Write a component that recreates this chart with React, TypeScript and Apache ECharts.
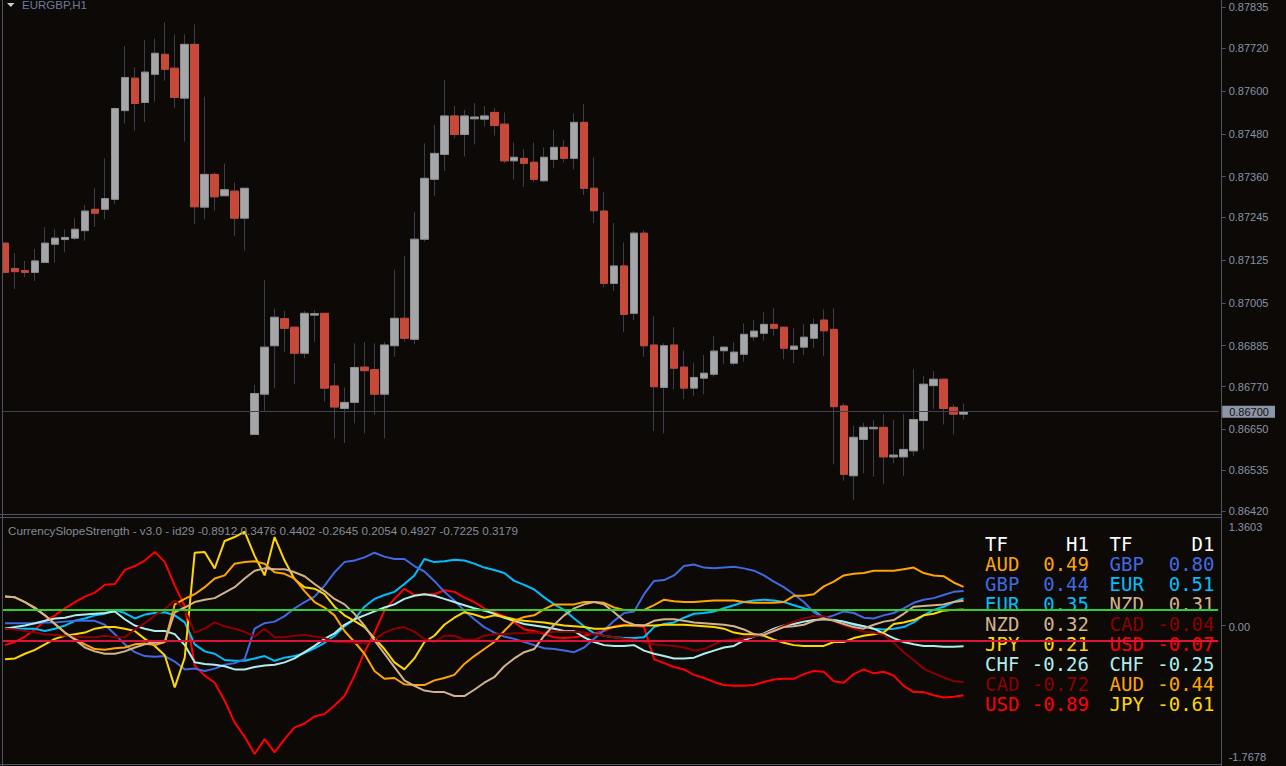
import React, { useEffect, useRef } from "react";
import * as echarts from "echarts";

// ---------- price panel (EURGBP, H1) ----------
const opens = [0.87173,0.87102,0.87096,0.87091,0.87119,0.87170,0.87183,0.87187,0.87208,0.87268,0.87268,0.87296,0.87545,0.87636,0.87568,0.87647,0.87703,0.87664,0.87580,0.87731,0.87274,0.87366,0.87306,0.87319,0.87243,0.86636,0.86749,0.86885,0.86961,0.86937,0.86864,0.86971,0.86976,0.86772,0.86709,0.86726,0.86825,0.86818,0.86749,0.86885,0.86962,0.86903,0.87184,0.87352,0.87422,0.87530,0.87478,0.87522,0.87521,0.87540,0.87507,0.87404,0.87411,0.87400,0.87348,0.87408,0.87442,0.87411,0.87512,0.87327,0.87263,0.87060,0.87109,0.86976,0.87201,0.86887,0.86768,0.86887,0.86825,0.86766,0.86794,0.86805,0.86871,0.86836,0.86861,0.86910,0.86920,0.86945,0.86937,0.86875,0.86881,0.86906,0.86957,0.86931,0.86716,0.86520,0.86622,0.86652,0.86656,0.86573,0.86573,0.86590,0.86675,0.86773,0.86791,0.86712,0.86693];
const closes = [0.87091,0.87093,0.87091,0.87123,0.87173,0.87187,0.87189,0.87212,0.87263,0.87257,0.87298,0.87551,0.87638,0.87565,0.87653,0.87706,0.87661,0.87582,0.87731,0.87275,0.87366,0.87303,0.87323,0.87243,0.87327,0.86751,0.86881,0.86965,0.86934,0.86864,0.86976,0.86975,0.86766,0.86713,0.86726,0.86824,0.86815,0.86749,0.86887,0.86962,0.86906,0.87184,0.87355,0.87425,0.87530,0.87478,0.87530,0.87527,0.87530,0.87503,0.87404,0.87414,0.87397,0.87352,0.87414,0.87442,0.87411,0.87512,0.87327,0.87264,0.87060,0.87109,0.86973,0.87201,0.86885,0.86770,0.86885,0.86822,0.86766,0.86796,0.86808,0.86870,0.86881,0.86867,0.86917,0.86926,0.86945,0.86934,0.86878,0.86884,0.86909,0.86945,0.86927,0.86714,0.86524,0.86628,0.86656,0.86656,0.86573,0.86578,0.86594,0.86678,0.86777,0.86791,0.86709,0.86693,0.86700];
const lows = [0.87089,0.87044,0.87078,0.87067,0.87118,0.87119,0.87147,0.87182,0.87180,0.87219,0.87240,0.87282,0.87509,0.87489,0.87513,0.87570,0.87629,0.87552,0.87458,0.87226,0.87240,0.87264,0.87306,0.87194,0.87152,0.86635,0.86702,0.86765,0.86868,0.86777,0.86850,0.86896,0.86728,0.86625,0.86612,0.86667,0.86639,0.86691,0.86625,0.86854,0.86896,0.86889,0.87177,0.87306,0.87376,0.87467,0.87416,0.87450,0.87500,0.87475,0.87397,0.87352,0.87331,0.87345,0.87345,0.87383,0.87400,0.87380,0.87308,0.87229,0.87049,0.87039,0.86923,0.86957,0.86854,0.86646,0.86639,0.86763,0.86735,0.86745,0.86749,0.86798,0.86833,0.86829,0.86840,0.86899,0.86899,0.86913,0.86847,0.86836,0.86859,0.86878,0.86856,0.86552,0.86506,0.86452,0.86527,0.86517,0.86496,0.86555,0.86520,0.86575,0.86594,0.86707,0.86664,0.86636,0.86678];
const highs = [0.87175,0.87145,0.87123,0.87157,0.87218,0.87212,0.87212,0.87243,0.87280,0.87327,0.87411,0.87553,0.87726,0.87667,0.87743,0.87748,0.87793,0.87759,0.87759,0.87787,0.87584,0.87372,0.87397,0.87344,0.87328,0.86775,0.87069,0.86989,0.86983,0.86938,0.86983,0.86985,0.86977,0.86836,0.86768,0.86892,0.86895,0.86892,0.86895,0.87098,0.87137,0.87260,0.87453,0.87505,0.87631,0.87558,0.87547,0.87566,0.87558,0.87552,0.87540,0.87456,0.87437,0.87456,0.87442,0.87491,0.87462,0.87537,0.87563,0.87414,0.87316,0.87229,0.87175,0.87207,0.87210,0.86968,0.86892,0.86937,0.86871,0.86838,0.86859,0.86912,0.86882,0.86895,0.86948,0.86957,0.86979,0.86990,0.86938,0.86934,0.86945,0.86962,0.86987,0.86990,0.86723,0.86660,0.86669,0.86677,0.86693,0.86678,0.86693,0.86819,0.86800,0.86814,0.86792,0.86721,0.86723];
const currentPrice = 0.867;
const priceTicks = [0.87835,0.8772,0.876,0.8748,0.8736,0.87245,0.87125,0.87005,0.86885,0.8677,0.8665,0.86535,0.8642];

// ---------- CurrencySlopeStrength panel ----------
const usd = [-0.25,-0.21,-0.14,-0.05,0.06,0.13,0.22,0.30,0.37,0.42,0.52,0.53,0.71,0.76,0.83,0.94,0.81,0.51,0.25,-0.51,-0.64,-0.73,-0.96,-1.24,-1.42,-1.64,-1.45,-1.62,-1.45,-1.30,-1.25,-1.16,-1.13,-1.02,-0.90,-0.64,-0.34,-0.09,0.19,0.34,0.47,0.39,0.40,0.40,0.45,0.43,0.36,0.30,0.22,0.17,0.12,0.04,-0.05,-0.07,-0.11,-0.15,-0.16,-0.15,-0.13,-0.10,-0.07,-0.01,0.01,0.00,-0.02,-0.43,-0.48,-0.53,-0.56,-0.63,-0.67,-0.72,-0.76,-0.77,-0.77,-0.76,-0.72,-0.69,-0.68,-0.68,-0.62,-0.58,-0.59,-0.71,-0.73,-0.62,-0.56,-0.61,-0.59,-0.64,-0.77,-0.85,-0.85,-0.89,-0.92,-0.91,-0.8912];
const eur = [-0.03,-0.04,-0.04,-0.04,-0.07,-0.04,0.00,0.06,0.09,0.13,0.15,0.20,0.16,0.09,0.14,0.16,0.17,0.13,0.04,-0.24,-0.33,-0.36,-0.44,-0.45,-0.45,-0.42,-0.39,-0.45,-0.41,-0.39,-0.35,-0.29,-0.22,-0.13,-0.01,0.08,0.24,0.34,0.39,0.43,0.53,0.64,0.85,0.81,0.82,0.84,0.83,0.79,0.74,0.71,0.67,0.57,0.52,0.46,0.36,0.27,0.20,0.09,-0.01,-0.10,-0.13,-0.15,-0.16,-0.16,-0.15,-0.02,0.02,0.04,0.10,0.15,0.16,0.18,0.22,0.26,0.30,0.32,0.33,0.32,0.30,0.26,0.22,0.19,0.10,0.07,0.05,0.01,-0.01,-0.04,-0.05,-0.04,-0.02,0.04,0.13,0.20,0.24,0.30,0.3476];
const gbp = [0.03,0.03,0.03,0.03,0.04,0.04,0.05,0.06,0.06,0.06,0.01,-0.11,-0.24,-0.34,-0.39,-0.40,-0.39,-0.46,-0.56,-0.55,-0.58,-0.55,-0.50,-0.48,-0.43,-0.04,0.03,0.05,0.12,0.22,0.30,0.37,0.51,0.68,0.81,0.83,0.87,0.93,0.88,0.85,0.85,0.76,0.69,0.57,0.43,0.32,0.19,0.08,-0.02,-0.09,-0.14,-0.17,-0.21,-0.25,-0.29,-0.30,-0.32,-0.34,-0.28,-0.17,-0.06,0.06,0.16,0.18,0.40,0.57,0.58,0.64,0.76,0.78,0.74,0.73,0.74,0.75,0.73,0.70,0.64,0.56,0.49,0.40,0.30,0.17,0.09,0.13,0.18,0.16,0.10,0.09,0.13,0.16,0.22,0.29,0.33,0.35,0.39,0.43,0.4402];
const chf = [-0.04,-0.02,0.00,0.03,0.06,0.09,0.10,0.13,0.14,0.15,0.16,0.18,0.08,0.00,-0.04,-0.07,-0.07,-0.11,-0.25,-0.47,-0.49,-0.50,-0.52,-0.56,-0.56,-0.53,-0.51,-0.50,-0.47,-0.42,-0.34,-0.26,-0.17,-0.10,0.01,0.08,0.13,0.18,0.23,0.27,0.34,0.38,0.40,0.38,0.34,0.30,0.26,0.22,0.19,0.15,0.10,0.06,0.02,0.00,-0.02,-0.04,-0.07,-0.07,-0.15,-0.21,-0.25,-0.26,-0.26,-0.25,-0.32,-0.36,-0.39,-0.42,-0.42,-0.41,-0.36,-0.32,-0.28,-0.26,-0.19,-0.14,-0.10,-0.04,0.00,0.02,0.05,0.07,0.08,0.07,0.05,0.02,-0.01,-0.04,-0.10,-0.16,-0.21,-0.24,-0.26,-0.26,-0.27,-0.27,-0.2645];
const jpy = [-0.43,-0.42,-0.36,-0.31,-0.24,-0.17,-0.13,-0.11,-0.09,-0.04,-0.02,-0.02,-0.04,-0.07,-0.17,-0.26,-0.38,-0.79,-0.41,0.93,0.94,0.73,1.08,1.13,1.20,0.89,0.64,1.13,0.83,0.59,0.49,0.47,0.40,0.24,0.13,0.06,-0.02,-0.16,-0.30,-0.47,-0.56,-0.42,-0.21,-0.13,0.01,0.10,0.17,0.14,0.10,0.13,0.11,0.08,0.06,0.05,0.04,0.02,0.00,-0.01,-0.02,-0.04,-0.04,-0.02,0.00,0.00,0.00,0.00,0.01,0.01,0.01,0.00,-0.01,-0.02,-0.04,-0.09,-0.11,-0.11,-0.13,-0.18,-0.22,-0.25,-0.26,-0.26,-0.26,-0.21,-0.21,-0.16,-0.13,-0.11,-0.09,0.02,0.04,0.07,0.13,0.15,0.19,0.20,0.2054];
const aud = [0.37,0.36,0.30,0.23,0.13,0.02,-0.09,-0.17,-0.24,-0.30,-0.31,-0.29,-0.28,-0.24,-0.23,-0.25,-0.21,0.27,0.34,0.40,0.49,0.60,0.64,0.79,0.81,0.82,0.79,0.68,0.66,0.60,0.44,0.30,0.23,0.13,-0.07,-0.21,-0.36,-0.58,-0.68,-0.67,-0.75,-0.76,-0.76,-0.70,-0.67,-0.63,-0.49,-0.39,-0.30,-0.21,-0.07,0.06,0.11,0.13,0.21,0.27,0.27,0.27,0.30,0.30,0.29,0.23,0.20,0.20,0.20,0.26,0.33,0.31,0.30,0.30,0.31,0.32,0.32,0.32,0.30,0.29,0.29,0.29,0.30,0.38,0.38,0.40,0.50,0.56,0.64,0.66,0.67,0.70,0.70,0.70,0.72,0.74,0.67,0.64,0.63,0.55,0.4927];
const cad = [-0.04,-0.05,-0.07,-0.09,-0.11,-0.12,-0.13,-0.14,-0.15,-0.15,-0.13,-0.15,-0.15,-0.05,0.03,0.13,0.21,0.32,0.21,-0.09,-0.04,0.04,-0.01,-0.04,-0.08,-0.14,-0.04,-0.15,-0.15,-0.13,-0.12,-0.14,-0.16,-0.21,-0.21,-0.22,-0.23,-0.18,-0.09,-0.04,-0.02,-0.08,-0.17,-0.21,-0.13,-0.13,-0.18,-0.18,-0.13,-0.11,-0.11,-0.10,-0.10,-0.09,-0.09,-0.08,-0.08,-0.08,-0.09,-0.11,-0.13,-0.15,-0.17,-0.18,-0.21,-0.24,-0.25,-0.26,-0.28,-0.32,-0.30,-0.24,-0.19,-0.18,-0.16,-0.14,-0.11,-0.06,0.00,0.05,0.09,0.12,0.12,0.06,0.00,-0.04,-0.08,-0.09,-0.12,-0.22,-0.34,-0.44,-0.55,-0.61,-0.66,-0.71,-0.7225];
const nzd = [0.37,0.36,0.30,0.22,0.13,0.02,-0.09,-0.18,-0.28,-0.33,-0.36,-0.36,-0.33,-0.28,-0.24,-0.22,-0.21,0.17,0.23,0.30,0.33,0.35,0.42,0.49,0.60,0.70,0.73,0.72,0.72,0.68,0.63,0.53,0.44,0.34,0.27,0.15,0.00,-0.19,-0.36,-0.53,-0.70,-0.77,-0.83,-0.85,-0.85,-0.90,-0.90,-0.82,-0.73,-0.66,-0.52,-0.42,-0.34,-0.30,-0.13,0.01,0.13,0.22,0.27,0.30,0.27,0.17,0.06,0.01,0.00,0.06,0.08,0.08,0.06,0.04,0.03,0.02,0.01,-0.01,-0.05,-0.11,-0.12,-0.07,-0.02,-0.01,0.01,0.06,0.09,0.06,0.02,-0.02,-0.04,0.01,0.05,0.07,0.15,0.24,0.25,0.26,0.27,0.30,0.3179];
const levelHigh = 0.2;
const levelLow = -0.2;
const indMax = 1.3603;
const indMin = -1.7678;
const indTicks = [1.3603, 0, -1.7678];

// ---------- strength table ----------
const h1Currencies = ["AUD", "GBP", "EUR", "NZD", "JPY", "CHF", "CAD", "USD"];
const h1Values = [0.49, 0.44, 0.35, 0.32, 0.21, -0.26, -0.72, -0.89];
const d1Currencies = ["GBP", "EUR", "NZD", "CAD", "USD", "CHF", "AUD", "JPY"];
const d1Values = [0.8, 0.51, 0.31, -0.04, -0.07, -0.25, -0.44, -0.61];

const colors: Record<string, string> = {
  USD: "#FF0000",
  EUR: "#00BFFF",
  GBP: "#4169E1",
  CHF: "#AFEEEE",
  JPY: "#FFD700",
  AUD: "#FFA500",
  CAD: "#8B0000",
  NZD: "#D2B48C",
};

const BG = "#0c0907";
const FRAME = "#4f5363";
const AXIS_TEXT = "#8a93a6";
const WICK = "#3a3e4b";
const UP = "#a4a6a9";
const UP_BORDER = "#8c8e92";
const DOWN = "#c6493a";
const UI_FONT = '"Liberation Sans", Arial, sans-serif';
const MONO = '"DejaVu Sans Mono", monospace';

const SLOT_COUNT = 122;

function buildOption() {
  const slots = Array.from({ length: SLOT_COUNT }, (_, i) => String(i));
  const wickData = opens.map((o, i) => [o, closes[i], lows[i], highs[i]]);
  const bodyData = opens.map((o, i) => [
    o,
    closes[i],
    Math.min(o, closes[i]),
    Math.max(o, closes[i]),
  ]);

  const indicator: [string, number[]][] = [
    ["USD", usd],
    ["EUR", eur],
    ["GBP", gbp],
    ["CHF", chf],
    ["JPY", jpy],
    ["AUD", aud],
    ["CAD", cad],
    ["NZD", nzd],
  ];

  const graphic: any[] = [];
  // frame
  graphic.push({ type: "rect", z: 100, silent: true, shape: { x: 0, y: 0, width: 2, height: 766 }, style: { fill: BG } });
  graphic.push({ type: "line", z: 101, silent: true, shape: { x1: 2.5, y1: 0, x2: 2.5, y2: 766 }, style: { stroke: FRAME, lineWidth: 1 } });
  graphic.push({ type: "line", z: 101, silent: true, shape: { x1: 0, y1: 514.5, x2: 1222, y2: 514.5 }, style: { stroke: FRAME, lineWidth: 1 } });
  graphic.push({ type: "line", z: 101, silent: true, shape: { x1: 0, y1: 517.5, x2: 1222, y2: 517.5 }, style: { stroke: FRAME, lineWidth: 1 } });
  graphic.push({ type: "line", z: 101, silent: true, shape: { x1: 0, y1: 764.5, x2: 1222, y2: 764.5 }, style: { stroke: FRAME, lineWidth: 1 } });
  graphic.push({ type: "line", z: 101, silent: true, shape: { x1: 1221.5, y1: 0, x2: 1221.5, y2: 766 }, style: { stroke: FRAME, lineWidth: 1 } });
  // chart title
  graphic.push({ type: "polygon", z: 102, silent: true, shape: { points: [[7, 3], [14.5, 3], [10.75, 7]] }, style: { fill: "#c9cdd6" } });
  graphic.push({ type: "text", z: 102, silent: true, x: 22, y: 5, style: { text: "EURGBP,H1", fill: "#6d7a9e", font: `11.5px ${UI_FONT}`, verticalAlign: "middle" } });
  // indicator title
  const indTitle =
    "CurrencySlopeStrength - v3.0 - id29 " +
    [usd, eur, gbp, chf, jpy, aud, cad, nzd].map((s) => s[s.length - 1].toFixed(4)).join(" ");
  graphic.push({ type: "text", z: 102, silent: true, x: 8, y: 530, style: { text: indTitle, fill: "#858b99", font: `11.7px ${UI_FONT}`, verticalAlign: "middle" } });

  // strength table
  const rowY = (r: number) => 544 + r * 20;
  const tableFont = `19px ${MONO}`;
  const addCol = (labelX: number, valueRight: number, tf: string, names: string[], vals: number[]) => {
    graphic.push({ type: "text", z: 1, silent: true, x: labelX, y: rowY(0), style: { text: "TF", fill: "#ffffff", font: tableFont, verticalAlign: "middle" } });
    graphic.push({ type: "text", z: 1, silent: true, x: valueRight, y: rowY(0), style: { text: tf, fill: "#ffffff", font: tableFont, align: "right", verticalAlign: "middle" } });
    names.forEach((n, r) => {
      graphic.push({ type: "text", z: 1, silent: true, x: labelX, y: rowY(r + 1), style: { text: n, fill: colors[n], font: tableFont, verticalAlign: "middle" } });
      graphic.push({ type: "text", z: 1, silent: true, x: valueRight, y: rowY(r + 1), style: { text: vals[r].toFixed(2), fill: colors[n], font: tableFont, align: "right", verticalAlign: "middle" } });
    });
  };
  addCol(985, 1089, "H1", h1Currencies, h1Values);
  addCol(1109.5, 1214.5, "D1", d1Currencies, d1Values);

  return {
    animation: false,
    backgroundColor: BG,
    textStyle: { fontFamily: UI_FONT },
    grid: [
      { left: -1.8, top: 7.3, width: 1220, height: 504.1 },
      { left: -1.8, top: 519, width: 1220, height: 245 },
    ],
    xAxis: [
      { type: "category", gridIndex: 0, data: slots, boundaryGap: true, show: false },
      { type: "category", gridIndex: 1, data: slots, boundaryGap: true, show: false },
    ],
    yAxis: [
      {
        type: "value",
        gridIndex: 0,
        position: "right",
        offset: 3.5,
        min: 0.8642,
        max: 0.87835,
        splitLine: { show: false },
        axisLine: { show: false },
        axisTick: { show: true, customValues: priceTicks, length: 4, lineStyle: { color: FRAME } },
        axisLabel: {
          customValues: priceTicks,
          formatter: (v: number) => v.toFixed(5),
          color: AXIS_TEXT,
          fontSize: 11,
          fontFamily: UI_FONT,
          margin: 7,
        },
      },
      {
        type: "value",
        gridIndex: 1,
        position: "right",
        offset: 3.5,
        min: indMin,
        max: indMax,
        splitLine: { show: false },
        axisLine: { show: false },
        axisTick: { show: true, customValues: [0], length: 4, lineStyle: { color: FRAME } },
        axisLabel: {
          customValues: indTicks,
          formatter: (v: number) => {
            if (v === 0) return "{mid|0.00}";
            if (v > 0) return "{top|" + v.toFixed(4) + "}";
            return "{bot|" + v.toFixed(4) + "}";
          },
          color: AXIS_TEXT,
          fontSize: 11,
          fontFamily: UI_FONT,
          margin: 7,
          rich: {
            top: { color: AXIS_TEXT, fontSize: 11, fontFamily: UI_FONT, padding: [15, 0, 0, 0] },
            bot: { color: AXIS_TEXT, fontSize: 11, fontFamily: UI_FONT, padding: [0, 0, 15, 0] },
            mid: { color: AXIS_TEXT, fontSize: 11, fontFamily: UI_FONT, padding: [2, 0, 0, 0] },
          },
        },
      },
    ],
    series: [
      {
        name: "price line",
        type: "line",
        xAxisIndex: 0,
        yAxisIndex: 0,
        data: [],
        z: 1,
        markLine: {
          silent: true,
          precision: 5,
          symbol: ["none", "none"],
          data: [{ yAxis: currentPrice }],
          lineStyle: { color: "#3e4254", width: 1, type: "solid" },
          label: {
            show: true,
            position: "end",
            distance: 4,
            formatter: () => currentPrice.toFixed(5),
            color: "#14110f",
            backgroundColor: "#8d95a8",
            padding: [1, 6, 0, 7],
            fontSize: 11,
            fontFamily: UI_FONT,
          },
        },
      },
      {
        name: "wicks",
        type: "candlestick",
        xAxisIndex: 0,
        yAxisIndex: 0,
        data: wickData,
        barWidth: 8,
        z: 2,
        itemStyle: { color: "transparent", color0: "transparent", borderColor: WICK, borderColor0: WICK, borderWidth: 1 },
      },
      {
        name: "bodies",
        type: "candlestick",
        xAxisIndex: 0,
        yAxisIndex: 0,
        data: bodyData,
        barWidth: 8,
        z: 3,
        itemStyle: { color: UP, color0: DOWN, borderColor: UP_BORDER, borderColor0: DOWN, borderWidth: 1 },
      },
      {
        name: "levels",
        type: "line",
        xAxisIndex: 1,
        yAxisIndex: 1,
        data: [],
        z: 2,
        markLine: {
          silent: true,
          precision: 4,
          symbol: ["none", "none"],
          label: { show: false },
          data: [
            { yAxis: levelHigh, lineStyle: { color: "#32CD32", width: 2, type: "solid" } },
            { yAxis: levelLow, lineStyle: { color: "#DC143C", width: 2, type: "solid" } },
          ],
        },
      },
      ...indicator.map(([name, values]) => ({
        name,
        type: "line",
        xAxisIndex: 1,
        yAxisIndex: 1,
        data: values,
        z: 3,
        symbol: "none",
        showSymbol: false,
        lineStyle: { color: colors[name], width: 2 },
        itemStyle: { color: colors[name] },
      })),
    ],
    graphic,
  };
}

export default function App() {
  const ref = useRef<HTMLDivElement>(null);
  useEffect(() => {
    const chart = echarts.init(ref.current!, null, { renderer: "svg" });
    chart.setOption(buildOption() as any);
    return () => chart.dispose();
  }, []);
  return (
    <div
      ref={ref}
      style={{ position: "fixed", left: 0, top: 0, width: 1286, height: 766, background: BG }}
    />
  );
}
